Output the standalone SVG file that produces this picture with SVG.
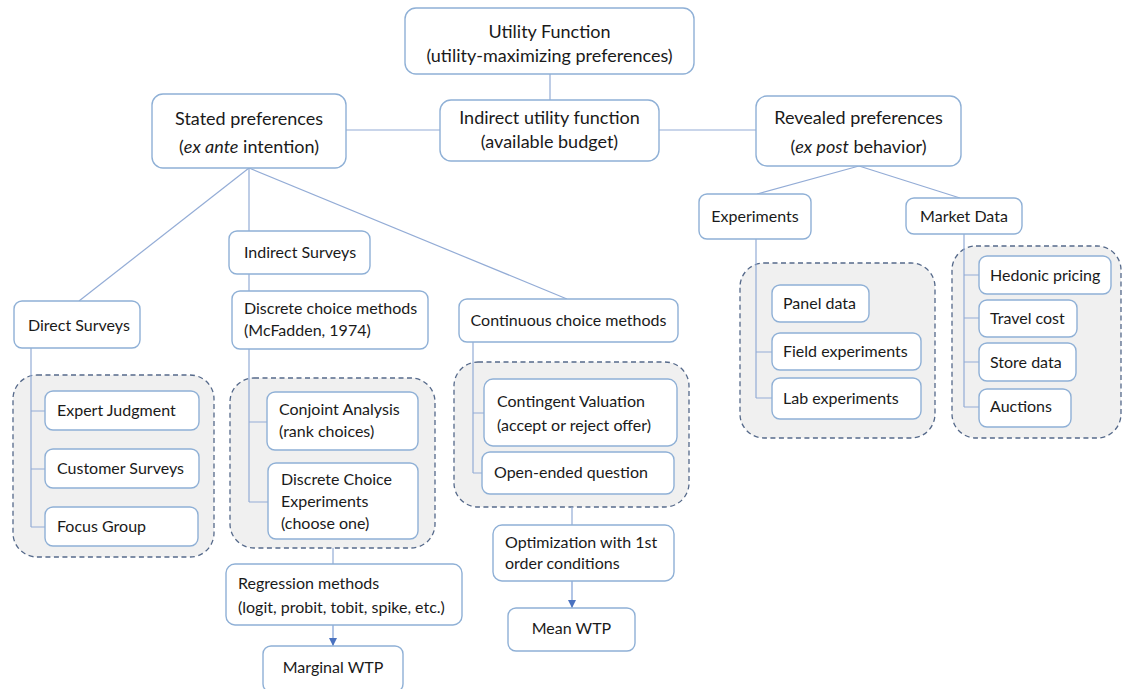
<svg xmlns="http://www.w3.org/2000/svg" width="1122" height="689" viewBox="0 0 1122 689">
<defs>
<style>
.bg{fill:#ffffff}
.box{fill:#ffffff;stroke:#8fb0d6;stroke-width:1.4}
.grp{fill:#f0f0f0;stroke:#55698a;stroke-width:1.3;stroke-dasharray:5 3.5}
.ln{fill:none;stroke:#93acd6;stroke-width:1.2}
.arr{fill:none;stroke:#7f9fd6;stroke-width:1.2;marker-end:url(#ah)}
text{font-family:Lato,"Open Sans","DejaVu Sans",sans-serif;fill:#1a1a1a}
.big{font-size:18px}
.sm{font-size:16px}
.c{text-anchor:middle}
</style>
<marker id="ah" viewBox="0 0 10 10" refX="10" refY="5" markerWidth="8" markerHeight="8" markerUnits="userSpaceOnUse" orient="auto">
<path d="M0,0 L10,5 L0,10 z" fill="#4a72c0"/>
</marker>
</defs>
<rect class="bg" x="0" y="0" width="1122" height="689"/>

<g id="groups">
<rect id="grp-direct" class="grp" x="13" y="375" width="201" height="182" rx="24"/>
<rect id="grp-discrete" class="grp" x="230" y="378" width="205" height="170" rx="24"/>
<rect id="grp-continuous" class="grp" x="454" y="362" width="235" height="145" rx="24"/>
<rect id="grp-experiments" class="grp" x="740" y="263" width="195" height="175" rx="24"/>
<rect id="grp-market" class="grp" x="952" y="246" width="169" height="192" rx="24"/>
</g>

<g id="connectors">
<path class="ln" d="M550 74 V100"/>
<path class="ln" d="M346 130 H440"/>
<path class="ln" d="M659 130 H756"/>
<path class="ln" d="M249 168 L79 301"/>
<path class="ln" d="M249 168 V231"/>
<path class="ln" d="M249 168 L567 299"/>
<path class="ln" d="M249 274 V291"/>
<path class="ln" d="M249 349 V502 M249 422 H267 M249 502 H268"/>
<path class="ln" d="M31 348 V527 M31 411 H45 M31 469 H45 M31 527 H45"/>
<path class="ln" d="M473 342 V473 M473 413 H484 M473 473 H482"/>
<path class="ln" d="M333 548 V564"/>
<path class="arr" d="M333 625 V646"/>
<path class="ln" d="M572 507 V525"/>
<path class="arr" d="M572 581 V608"/>
<path class="ln" d="M859 166 L757 194"/>
<path class="ln" d="M859 166 L960 198"/>
<path class="ln" d="M756 239 V398 M756 352 H772 M756 398 H772"/>
<path class="ln" d="M964 234 V407 M964 275 H979 M964 318 H979 M964 362 H979 M964 407 H979"/>
</g>

<g id="utility">
<rect class="box" x="405" y="8" width="289" height="66" rx="11"/>
<text class="big c" x="549.5" y="38">Utility Function</text>
<text class="big c" x="549.5" y="62">(utility-maximizing preferences)</text>
</g>
<g id="indirect-utility">
<rect class="box" x="440" y="100" width="219" height="61" rx="11"/>
<text class="big c" x="549.5" y="124">Indirect utility function</text>
<text class="big c" x="549.5" y="148">(available budget)</text>
</g>
<g id="stated">
<rect class="box" x="152" y="94" width="194" height="74" rx="11"/>
<text class="big c" x="249" y="125">Stated preferences</text>
<text class="big c" x="249" y="153">(<tspan font-style="italic">ex ante</tspan> intention)</text>
</g>
<g id="revealed">
<rect class="box" x="756" y="96" width="205" height="70" rx="11"/>
<text class="big c" x="858.5" y="124">Revealed preferences</text>
<text class="big c" x="858.5" y="153">(<tspan font-style="italic">ex post</tspan> behavior)</text>
</g>

<g id="direct-surveys">
<rect class="box" x="14" y="301" width="126" height="47" rx="8"/>
<text class="sm" x="28" y="331">Direct Surveys</text>
</g>
<g id="expert-judgment">
<rect class="box" x="45" y="391" width="154" height="39" rx="8"/>
<text class="sm" x="57" y="416">Expert Judgment</text>
</g>
<g id="customer-surveys">
<rect class="box" x="45" y="449" width="154" height="39" rx="8"/>
<text class="sm" x="57" y="474">Customer Surveys</text>
</g>
<g id="focus-group">
<rect class="box" x="45" y="507" width="153" height="39" rx="8"/>
<text class="sm" x="57" y="532">Focus Group</text>
</g>

<g id="indirect-surveys">
<rect class="box" x="229" y="231" width="141" height="43" rx="8"/>
<text class="sm" x="244" y="258">Indirect Surveys</text>
</g>
<g id="discrete-choice">
<rect class="box" x="232" y="291" width="196" height="58" rx="8"/>
<text class="sm" x="244" y="314">Discrete choice methods</text>
<text class="sm" x="244" y="336">(McFadden, 1974)</text>
</g>
<g id="conjoint">
<rect class="box" x="267" y="392" width="151" height="58" rx="8"/>
<text class="sm" x="279" y="415">Conjoint Analysis</text>
<text class="sm" x="279" y="437">(rank choices)</text>
</g>
<g id="dce">
<rect class="box" x="268" y="463" width="150" height="76" rx="8"/>
<text class="sm" x="281" y="485">Discrete Choice</text>
<text class="sm" x="281" y="507">Experiments</text>
<text class="sm" x="281" y="529">(choose one)</text>
</g>
<g id="regression">
<rect class="box" x="226" y="564" width="236" height="61" rx="9"/>
<text class="sm" x="238" y="589">Regression methods</text>
<text class="sm" x="238" y="613">(logit, probit, tobit, spike, etc.)</text>
</g>
<g id="marginal-wtp">
<rect class="box" x="263" y="646" width="140" height="46" rx="8"/>
<text class="sm c" x="333" y="673">Marginal WTP</text>
</g>

<g id="continuous-choice">
<rect class="box" x="459" y="299" width="219" height="43" rx="8"/>
<text class="sm c" x="568.5" y="326">Continuous choice methods</text>
</g>
<g id="contingent">
<rect class="box" x="484" y="379" width="193" height="67" rx="9"/>
<text class="sm" x="497" y="407">Contingent Valuation</text>
<text class="sm" x="497" y="431">(accept or reject offer)</text>
</g>
<g id="open-ended">
<rect class="box" x="482" y="452" width="192" height="42" rx="8"/>
<text class="sm" x="494" y="478">Open-ended question</text>
</g>
<g id="optimization">
<rect class="box" x="493" y="525" width="181" height="56" rx="9"/>
<text class="sm" x="505" y="548">Optimization with 1st</text>
<text class="sm" x="505" y="569">order conditions</text>
</g>
<g id="mean-wtp">
<rect class="box" x="508" y="608" width="127" height="43" rx="8"/>
<text class="sm c" x="571.5" y="634">Mean WTP</text>
</g>

<g id="experiments">
<rect class="box" x="699" y="194" width="112" height="45" rx="8"/>
<text class="sm c" x="755" y="222">Experiments</text>
</g>
<g id="panel-data">
<rect class="box" x="772" y="285" width="97" height="37" rx="8"/>
<text class="sm" x="783" y="309">Panel data</text>
</g>
<g id="field-experiments">
<rect class="box" x="772" y="333" width="149" height="37" rx="8"/>
<text class="sm" x="783" y="357">Field experiments</text>
</g>
<g id="lab-experiments">
<rect class="box" x="772" y="378" width="149" height="41" rx="8"/>
<text class="sm" x="783" y="404">Lab experiments</text>
</g>

<g id="market-data">
<rect class="box" x="906" y="198" width="116" height="36" rx="8"/>
<text class="sm c" x="964" y="222">Market Data</text>
</g>
<g id="hedonic">
<rect class="box" x="979" y="256" width="132" height="38" rx="8"/>
<text class="sm" x="990" y="281">Hedonic pricing</text>
</g>
<g id="travel-cost">
<rect class="box" x="979" y="300" width="98" height="37" rx="8"/>
<text class="sm" x="990" y="324">Travel cost</text>
</g>
<g id="store-data">
<rect class="box" x="979" y="343" width="97" height="38" rx="8"/>
<text class="sm" x="990" y="368">Store data</text>
</g>
<g id="auctions">
<rect class="box" x="979" y="389" width="92" height="38" rx="8"/>
<text class="sm" x="990" y="412">Auctions</text>
</g>
</svg>
